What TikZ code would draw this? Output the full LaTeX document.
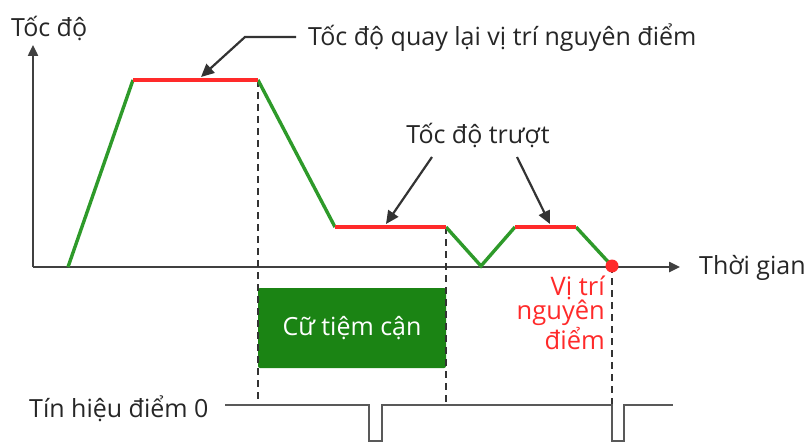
\documentclass[tikz,border=0pt]{standalone}
\usepackage{fontspec}
\setmainfont{Open Sans}
\usetikzlibrary{arrows.meta}
\definecolor{prgreen}{HTML}{2E9A2A}
\definecolor{boxgreen}{HTML}{1B8414}
\definecolor{prred}{HTML}{FF2A2A}
\definecolor{axgray}{HTML}{404040}
\begin{document}
\begin{tikzpicture}[x=1pt,y=-1pt,
  lbl/.style={font=\fontsize{25}{28}\selectfont, text=black!85, inner sep=0pt},
  axis/.style={draw=axgray, line width=2.4pt, -{Triangle[length=11pt,width=10pt]}},
  rise/.style={draw=prgreen, line width=3.4pt},
  flat/.style={draw=prred, line width=3.4pt},
  guide/.style={draw=black!80, line width=2.4pt, dash pattern=on 7pt off 5pt},
  callout/.style={draw=black!80, line width=2.2pt, -{Triangle[length=13pt,width=12pt]}},
  sig/.style={draw=black!65, line width=2.4pt}]
\useasboundingbox (0,0) rectangle (812,444);
% axes
\coordinate (O) at (33,267);
\coordinate (Ytop) at (33,45);
\coordinate (Xend) at (680,267);
\draw[axis] (O) -- (Ytop);
\draw[axis] (O) -- (Xend);
\node[lbl, anchor=west] (ylab) at (11,28) {Tốc độ};
\node[lbl, anchor=west] (xlab) at (699,268) {Thời gian};
% profile points
\coordinate (p0) at (68,267);
\coordinate (p1) at (133,80);
\coordinate (p2) at (258,80);
\coordinate (p3) at (335,227);
\coordinate (p4) at (446,227);
\coordinate (p5) at (481,266);
\coordinate (p6) at (515,227);
\coordinate (p7) at (576,227);
\coordinate (p8) at (612,266);
% dashed guides
\coordinate (s1) at (258,405);
\coordinate (s2) at (446,405);
\coordinate (s3) at (612,405);
% proximity box
\node[fill=boxgreen, rounded corners=2pt, minimum width=188pt, minimum height=80pt, inner sep=0pt,
      text=white, font=\fontsize{25}{28}\selectfont] (box) at (352,328) {Cữ tiệm cận};
\draw[guide] (p2) -- (s1);
\draw[guide] (p4) -- (s2);
\draw[guide] (p8) -- (s3);
\draw[rise] (p0) -- (p1);
\draw[rise] (p2) -- (p3);
\draw[rise] (p4) -- (p5) -- (p6);
\draw[rise] (p7) -- (p8);
\draw[flat] (p1) -- (p2);
\draw[flat] (p3) -- (p4);
\draw[flat] (p6) -- (p7);
\fill[prred] (p8) circle (6.5pt);
\node[font=\fontsize{25.5}{24}\selectfont, text=prred, align=right, anchor=north east, inner sep=0pt] (home) at (605,276) {Vị trí\\nguyên\\điểm};
% callouts
\node[lbl, anchor=west] (lab1) at (308,38) {Tốc độ quay lại vị trí nguyên điểm};
\coordinate (c1) at (296,37);
\coordinate (c1b) at (245,37);
\coordinate (c1t) at (201,77);
\draw[callout] (c1) -- (c1b) -- (c1t);
\node[lbl] (lab2) at (478,135) {Tốc độ trượt};
\coordinate (c2a) at (432,157);
\coordinate (c2t) at (386,224);
\coordinate (c3a) at (517,157);
\coordinate (c3t) at (550,224);
\draw[callout] (c2a) -- (c2t);
\draw[callout] (c3a) -- (c3t);
% zero signal
\node[lbl, anchor=west] (slab) at (29,409) {Tín hiệu điểm 0};
\coordinate (q0) at (225,405);
\coordinate (q1) at (369,405);
\coordinate (q2) at (369,441);
\coordinate (q3) at (382,441);
\coordinate (q4) at (382,405);
\coordinate (q5) at (612,405);
\coordinate (q6) at (612,441);
\coordinate (q7) at (624,441);
\coordinate (q8) at (624,405);
\coordinate (q9) at (673,405);
\draw[sig] (q0) -- (q1) -- (q2) -- (q3) -- (q4) -- (q5) -- (q6) -- (q7) -- (q8) -- (q9);
\end{tikzpicture}
\end{document}
